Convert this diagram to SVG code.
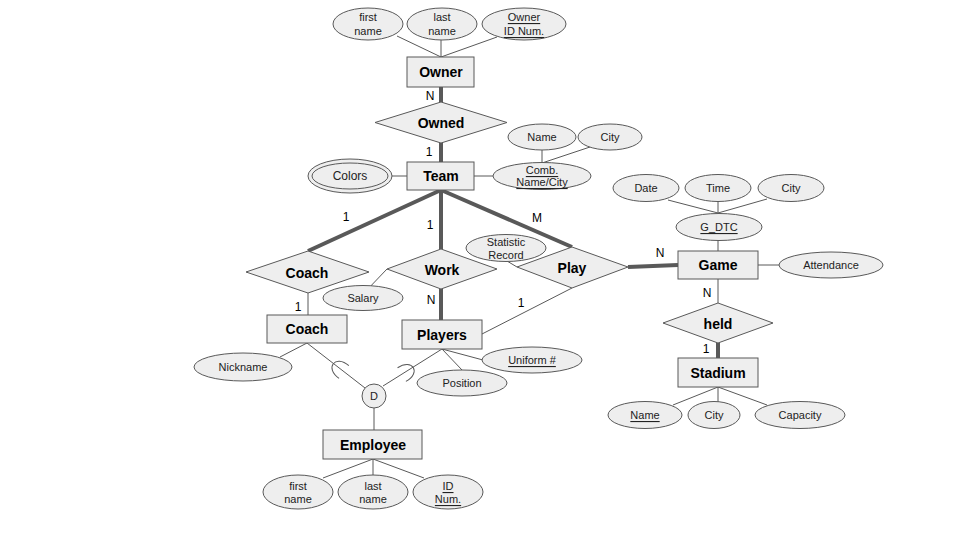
<svg xmlns="http://www.w3.org/2000/svg" width="960" height="540" viewBox="0 0 960 540">
<style>
.bg{fill:#ffffff}
.ent rect{fill:#eeeeee;stroke:#595959;stroke-width:1}
.rel polygon{fill:#eeeeee;stroke:#595959;stroke-width:1}
.att ellipse,.att circle{fill:#eeeeee;stroke:#595959;stroke-width:1}
.bt{font-family:"Liberation Sans",Arial,sans-serif;font-weight:bold;font-size:14px;fill:#000;text-anchor:middle;dominant-baseline:central}
.at{font-family:"Liberation Sans",Arial,sans-serif;font-size:11px;fill:#222;text-anchor:middle;dominant-baseline:central}
.u{text-decoration:underline}
.lbl{font-family:"Liberation Sans",Arial,sans-serif;font-size:12px;fill:#000;text-anchor:middle;dominant-baseline:central}
.thin{stroke:#595959;stroke-width:1;fill:none}
.thick{stroke:#595959;stroke-width:4;fill:none}
</style>
<rect class="bg" x="0" y="0" width="960" height="540"/>
<g id="connectors">
  <line class="thin" x1="397" y1="36" x2="441" y2="57"/>
  <line class="thin" x1="441" y1="40" x2="441" y2="57"/>
  <line class="thin" x1="497" y1="37" x2="441" y2="57"/>
  <line class="thick" x1="441" y1="87" x2="441" y2="102"/>
  <line class="thick" x1="441" y1="143" x2="441" y2="162"/>
  <line class="thin" x1="392" y1="176" x2="407" y2="176"/>
  <line class="thin" x1="474" y1="176" x2="493" y2="176"/>
  <line class="thin" x1="542" y1="150" x2="542" y2="163"/>
  <line class="thin" x1="590" y1="147" x2="542" y2="163"/>
  <line class="thick" x1="441" y1="190" x2="308" y2="251"/>
  <line class="thick" x1="441" y1="190" x2="441" y2="249"/>
  <line class="thick" x1="441" y1="190" x2="572" y2="247"/>
  <line class="thin" x1="308" y1="293" x2="308" y2="315"/>
  <line class="thin" x1="365" y1="292" x2="387" y2="269"/>
  <line class="thick" x1="441" y1="289" x2="441" y2="320"/>
  <line class="thin" x1="507" y1="261" x2="517" y2="267"/>
  <line class="thin" x1="572" y1="288" x2="482" y2="334"/>
  <line class="thick" x1="628" y1="267" x2="678" y2="265"/>
  <line class="thin" x1="668" y1="200" x2="718" y2="213"/>
  <line class="thin" x1="718" y1="201" x2="718" y2="213"/>
  <line class="thin" x1="767" y1="199" x2="718" y2="213"/>
  <line class="thin" x1="718" y1="240" x2="718" y2="251"/>
  <line class="thin" x1="758" y1="265" x2="779" y2="265"/>
  <line class="thin" x1="718" y1="279" x2="718" y2="303"/>
  <line class="thick" x1="718" y1="343" x2="718" y2="358"/>
  <line class="thin" x1="718" y1="387" x2="673" y2="405"/>
  <line class="thin" x1="718" y1="387" x2="718" y2="402"/>
  <line class="thin" x1="718" y1="387" x2="767" y2="405"/>
  <line class="thin" x1="307" y1="343" x2="280" y2="357"/>
  <line class="thin" x1="307" y1="343" x2="365" y2="388"/>
  <line class="thin" x1="442" y1="349" x2="383" y2="386"/>
  <line class="thin" x1="442" y1="349" x2="462" y2="370"/>
  <line class="thin" x1="442" y1="349" x2="483" y2="360"/>
  <path class="thin" d="M5,-8 C-13,-9 -13,9 5,8" transform="translate(340,369) rotate(37.8)"/>
  <path class="thin" d="M5,-8 C-13,-9 -13,9 5,8" transform="translate(406,372) rotate(148.6)"/>
  <line class="thin" x1="374" y1="408" x2="374" y2="430"/>
  <line class="thin" x1="373" y1="459" x2="323" y2="478"/>
  <line class="thin" x1="373" y1="459" x2="373" y2="475"/>
  <line class="thin" x1="373" y1="459" x2="424" y2="478"/>
</g>
<g id="cardinalities">
  <text class="lbl" x="430" y="96">N</text>
  <text class="lbl" x="429" y="152">1</text>
  <text class="lbl" x="346" y="217">1</text>
  <text class="lbl" x="430" y="225">1</text>
  <text class="lbl" x="537" y="218">M</text>
  <text class="lbl" x="298" y="307">1</text>
  <text class="lbl" x="431" y="300">N</text>
  <text class="lbl" x="521" y="303">1</text>
  <text class="lbl" x="660" y="253">N</text>
  <text class="lbl" x="707" y="293">N</text>
  <text class="lbl" x="706" y="349">1</text>
</g>
<g id="owner" class="ent"><rect x="407" y="57" width="67" height="30"/><text class="bt" x="441" y="72">Owner</text></g>
<g id="owner-first" class="att"><ellipse cx="368" cy="24" rx="35" ry="16"/><text class="at" x="368" y="17">first</text><text class="at" x="368" y="31">name</text></g>
<g id="owner-last" class="att"><ellipse cx="442" cy="24" rx="35" ry="16"/><text class="at" x="442" y="17">last</text><text class="at" x="442" y="31">name</text></g>
<g id="owner-id" class="att"><ellipse cx="524" cy="24" rx="42" ry="16"/><text class="at u" x="524" y="17">Owner</text><text class="at u" x="524" y="31">ID Num.</text></g>
<g id="owned" class="rel"><polygon points="441,102 507,122.5 441,143 375,122.5"/><text class="bt" x="441" y="123">Owned</text></g>
<g id="team" class="ent"><rect x="407" y="162" width="67" height="28"/><text class="bt" x="441" y="176">Team</text></g>
<g id="colors" class="att"><ellipse cx="350" cy="176" rx="42" ry="17"/><ellipse cx="350" cy="176" rx="38" ry="13"/><text class="at" x="350" y="176" style="font-size:12px">Colors</text></g>
<g id="comb" class="att"><ellipse cx="542" cy="176" rx="49" ry="13.5"/><text class="at u" x="542" y="170">Comb.</text><text class="at u" x="542" y="182">Name/City</text></g>
<g id="team-name" class="att"><ellipse cx="542" cy="137" rx="34" ry="13"/><text class="at" x="542" y="137">Name</text></g>
<g id="team-city" class="att"><ellipse cx="610" cy="137" rx="32" ry="13"/><text class="at" x="610" y="137">City</text></g>
<g id="coach-rel" class="rel"><polygon points="308,251 369,272 308,293 246,272"/><text class="bt" x="307" y="273">Coach</text></g>
<g id="work" class="rel"><polygon points="441,249 497,269 441,289 387,269"/><text class="bt" x="442" y="270">Work</text></g>
<g id="salary" class="att"><ellipse cx="363" cy="298" rx="40" ry="12.5"/><text class="at" x="363" y="298">Salary</text></g>
<g id="play" class="rel"><polygon points="572,247 628,267 572,288 517,267"/><text class="bt" x="572" y="268">Play</text></g>
<g id="stat" class="att"><ellipse cx="506" cy="248" rx="40" ry="13.5"/><text class="at" x="506" y="242">Statistic</text><text class="at" x="506" y="255">Record</text></g>
<g id="coach" class="ent"><rect x="267" y="315" width="80" height="28"/><text class="bt" x="307" y="329">Coach</text></g>
<g id="nickname" class="att"><ellipse cx="243" cy="367" rx="49" ry="14"/><text class="at" x="243" y="367">Nickname</text></g>
<g id="players" class="ent"><rect x="402" y="320" width="80" height="29"/><text class="bt" x="442" y="335">Players</text></g>
<g id="uniform" class="att"><ellipse cx="532" cy="360" rx="50" ry="13"/><text class="at u" x="532" y="360">Uniform #</text></g>
<g id="position" class="att"><ellipse cx="462" cy="383" rx="45" ry="13"/><text class="at" x="462" y="383">Position</text></g>
<g id="disjoint" class="att"><circle cx="374" cy="396" r="12"/><text class="at" x="374" y="396">D</text></g>
<g id="employee" class="ent"><rect x="323" y="430" width="99" height="29"/><text class="bt" x="373" y="445">Employee</text></g>
<g id="emp-first" class="att"><ellipse cx="298" cy="492" rx="35" ry="17"/><text class="at" x="298" y="486">first</text><text class="at" x="298" y="499">name</text></g>
<g id="emp-last" class="att"><ellipse cx="373" cy="492" rx="35" ry="17"/><text class="at" x="373" y="486">last</text><text class="at" x="373" y="499">name</text></g>
<g id="emp-id" class="att"><ellipse cx="448" cy="492" rx="35" ry="17"/><text class="at u" x="448" y="486">ID</text><text class="at u" x="448" y="499">Num.</text></g>
<g id="game" class="ent"><rect x="678" y="251" width="80" height="28"/><text class="bt" x="718" y="265">Game</text></g>
<g id="gdtc" class="att"><ellipse cx="719" cy="227" rx="43" ry="13.5"/><text class="at u" x="719" y="227">G_DTC</text></g>
<g id="date" class="att"><ellipse cx="646" cy="188" rx="33" ry="13.5"/><text class="at" x="646" y="188">Date</text></g>
<g id="time" class="att"><ellipse cx="718" cy="188" rx="33" ry="13.5"/><text class="at" x="718" y="188">Time</text></g>
<g id="game-city" class="att"><ellipse cx="791" cy="188" rx="33" ry="13.5"/><text class="at" x="791" y="188">City</text></g>
<g id="attendance" class="att"><ellipse cx="831" cy="265" rx="52" ry="13"/><text class="at" x="831" y="265">Attendance</text></g>
<g id="held" class="rel"><polygon points="718,303 773,323 718,343 663,323"/><text class="bt" x="718" y="324">held</text></g>
<g id="stadium" class="ent"><rect x="678" y="358" width="80" height="29"/><text class="bt" x="718" y="373">Stadium</text></g>
<g id="stadium-name" class="att"><ellipse cx="645" cy="415" rx="37" ry="13.5"/><text class="at u" x="645" y="415">Name</text></g>
<g id="stadium-city" class="att"><ellipse cx="714" cy="415" rx="26" ry="13.5"/><text class="at" x="714" y="415">City</text></g>
<g id="capacity" class="att"><ellipse cx="800" cy="415" rx="45" ry="13.5"/><text class="at" x="800" y="415">Capacity</text></g>
</svg>
